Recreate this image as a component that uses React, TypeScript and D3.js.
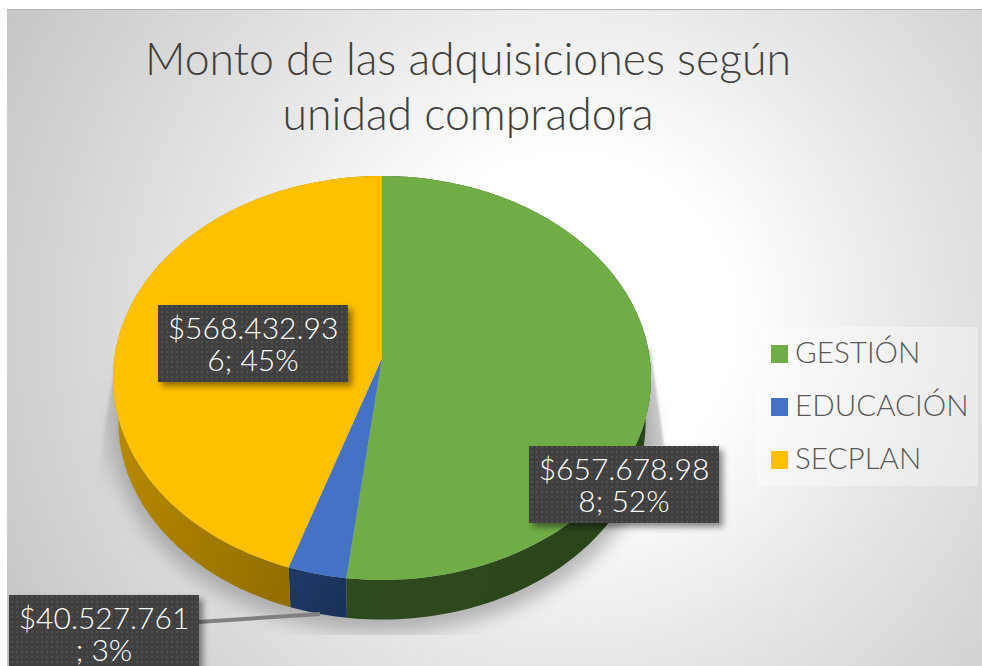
import * as d3 from 'd3';

const categories = ['GESTIÓN', 'EDUCACIÓN', 'SECPLAN'];
const amounts = [657678988, 40527761, 568432936];
const topColors = ['#70ad47', '#4472c4', '#ffc000'];
const wallFrom = ['#2f4d1f', '#1f3a68', '#c29200'];
const wallTo = ['#2b451b', '#1b3259', '#8d6a00'];
const titleLines = ['Monto de las adquisiciones según', 'unidad compradora'];
const labelBoxes = [
  { x: 529, y: 446, height: 77 },
  { x: 9, y: 595, height: 80 },
  { x: 158, y: 305, height: 77 },
];

const WIDTH = 982;
const HEIGHT = 666;
const FONT = 'Lato, "Open Sans", sans-serif';

// the pie is a circle seen in perspective, so the wedges meet above the middle of the ellipse
const APEX = { x: 382, y: 358 };
const TILT = -0.099;
const SCALE_X = 267.7;
const SCALE_Y = 200;
const RIM_SCALE = 0.98;
const RIM_DROP = 44;

const project = (angle: number, lower = false) => {
  const u = Math.sin(angle);
  const v = -Math.cos(angle);
  const w = 1 + TILT * v;
  const k = lower ? RIM_SCALE : 1;
  return [
    APEX.x + (k * SCALE_X * u) / w,
    APEX.y + (k * SCALE_Y * v) / w + (lower ? RIM_DROP : 0),
  ] as [number, number];
};

const anglesBetween = (a0: number, a1: number) => {
  const steps = Math.max(2, Math.ceil((a1 - a0) * 40));
  return d3.range(steps + 1).map((i) => a0 + ((a1 - a0) * i) / steps);
};

const line = d3.line();
const pie = d3.pie<number>().sort(null).value((d) => d);
const slices = pie(amounts);
const total = d3.sum(amounts);
const money = d3.formatLocale({ decimal: ',', thousands: '.', grouping: [3], currency: ['$', ''] }).format('$,d');

const labelLines = (value: number) => {
  const full = `${money(value)}; ${Math.round((value / total) * 100)}%`;
  return [full.slice(0, 11), full.slice(11)];
};

const topPath = (a0: number, a1: number) =>
  line([[APEX.x, APEX.y], ...anglesBetween(a0, a1).map((a) => project(a))])! + 'Z';

const wallPath = (a0: number, a1: number) => {
  const angles = anglesBetween(a0, a1);
  return (
    line([...angles.map((a) => project(a)), ...angles.slice().reverse().map((a) => project(a, true))])! + 'Z'
  );
};

const shadowPath = () => {
  const pts = anglesBetween(0, Math.PI * 2).map((a) => {
    const [x, y] = project(a, true);
    return [APEX.x + (x - APEX.x) * 1.02, y + 13] as [number, number];
  });
  return line(pts)! + 'Z';
};

const legendY = d3.scalePoint<string>().domain(categories).range([353, 459]);

export default function App() {
  return (
    <svg
      width={WIDTH}
      height={HEIGHT}
      viewBox={`0 0 ${WIDTH} ${HEIGHT}`}
      style={{ position: 'absolute', left: 0, top: 0, display: 'block' }}
    >
      <defs>
        <radialGradient id="bg" gradientUnits="userSpaceOnUse" cx={570} cy={320} r={660}>
          <stop offset="0.25" stopColor="#ffffff" />
          <stop offset="0.55" stopColor="#e5e5e5" />
          <stop offset="1" stopColor="#c4c4c4" />
        </radialGradient>
        {slices.map((s, i) => (
          <linearGradient key={i} id={`wall${i}`} gradientUnits="objectBoundingBox" x1="0" y1="0" x2="1" y2="0.4">
            <stop offset="0" stopColor={wallFrom[i]} />
            <stop offset="1" stopColor={wallTo[i]} />
          </linearGradient>
        ))}
        <linearGradient id="wedgeLeft" x1="0" y1="0" x2="0" y2="1">
          <stop offset="0" stopColor="#a8a8a8" stopOpacity={0.6} />
          <stop offset="1" stopColor="#a8a8a8" stopOpacity={0} />
        </linearGradient>
        <pattern id="dots" width="5" height="5" patternUnits="userSpaceOnUse">
          <rect width="5" height="5" fill="#404040" />
          <circle cx="2" cy="2" r="1" fill="#555555" />
        </pattern>
        <filter id="blur" x="-20%" y="-20%" width="140%" height="140%">
          <feGaussianBlur stdDeviation="9" />
        </filter>
        <filter id="soft" x="-20%" y="-20%" width="140%" height="140%">
          <feGaussianBlur stdDeviation="0.8" />
        </filter>
        <filter id="boxShadow" x="-10%" y="-20%" width="125%" height="150%">
          <feDropShadow dx="4" dy="4" stdDeviation="3" floodColor="#000" floodOpacity="0.45" />
        </filter>
        <clipPath id="frame">
          <rect x={7} y={9} width={WIDTH - 7} height={HEIGHT - 9} />
        </clipPath>
        <clipPath id="shadowClip">
          <rect x={0} y={0} width={WIDTH} height={635} />
        </clipPath>
      </defs>

      <rect x={7} y={9} width={WIDTH - 7} height={HEIGHT - 9} fill="url(#bg)" />
      <line x1={7} x2={WIDTH} y1={9.5} y2={9.5} stroke="#b5b5b5" />

      <g clipPath="url(#shadowClip)">
        <path d={line([[114, 370], [95, 495], [150, 495], [150, 370]])! + 'Z'} fill="url(#wedgeLeft)" filter="url(#soft)" />
        <path d={line([[650, 345], [664, 446], [625, 446]])! + 'Z'} fill="#b8b8b8" opacity={0.7} filter="url(#soft)" />
        <path d={shadowPath()} fill="#8c8c8c" opacity={0.6} filter="url(#blur)" />
      </g>

      <g clipPath="url(#frame)">
        {slices.map((s, i) => (
          <path key={i} d={wallPath(s.startAngle, s.endAngle)} fill={`url(#wall${i})`} />
        ))}
        {slices.map((s, i) => (
          <path key={i} d={topPath(s.startAngle, s.endAngle)} fill={topColors[i]} />
        ))}

        <path d={line([[198, 622], [320, 614]])!} stroke="#808080" strokeWidth={4} fill="none" />

        {slices.map((s, i) => {
          const box = labelBoxes[i];
          const [first, second] = labelLines(s.data);
          return (
            <g key={i}>
              <rect x={box.x} y={box.y} width={190} height={box.height} fill="url(#dots)" filter="url(#boxShadow)" />
              <text textAnchor="middle" fontFamily={FONT} fontWeight={300} fontSize={30} fill="#fff">
                <tspan x={box.x + 95} y={box.y + 34}>{first}</tspan>
                <tspan x={box.x + 95} y={box.y + 66}>{second}</tspan>
              </text>
            </g>
          );
        })}

        <rect x={757} y={327} width={221} height={159} fill="#ffffff" opacity={0.35} />
        {categories.map((c, i) => (
          <g key={c}>
            <rect x={771} y={legendY(c)! - 8} width={17} height={18} fill={topColors[i]} />
            <text x={795} y={legendY(c)! + 10} fontFamily={FONT} fontWeight={300} fontSize={29.6} fill="#595959">
              {c}
            </text>
          </g>
        ))}

        {titleLines.map((t, i) => (
          <text key={t} x={468} y={75 + i * 55} textAnchor="middle" fontFamily={FONT} fontWeight={300} fontSize={44.6} fill="#404040">
            {t}
          </text>
        ))}
      </g>
    </svg>
  );
}
